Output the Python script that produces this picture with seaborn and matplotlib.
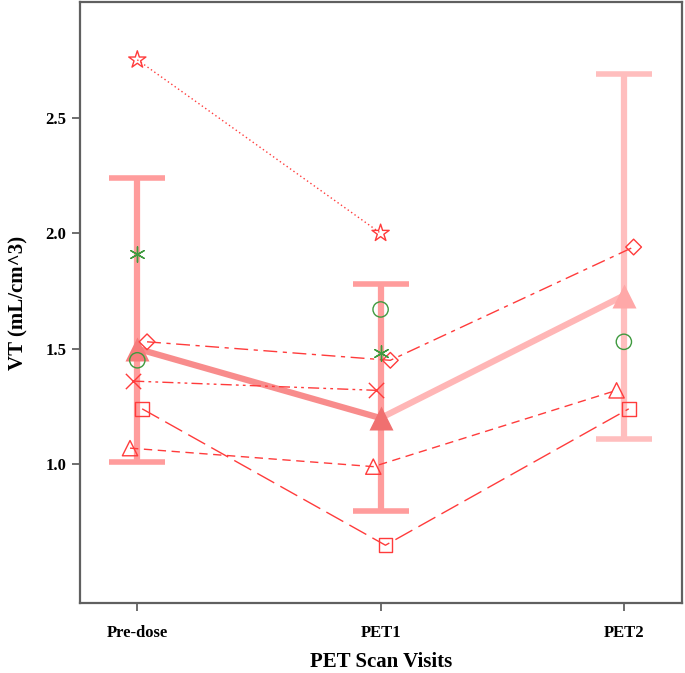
import matplotlib
matplotlib.use("Agg")
import matplotlib.pyplot as plt
import seaborn as sns
import pandas as pd

sns.set_style("white")
plt.rcParams["font.family"] = ["Liberation Serif", "DejaVu Serif"]
plt.rcParams["text.color"] = "black"
plt.rcParams["axes.labelcolor"] = "black"
plt.rcParams["xtick.color"] = "black"
plt.rcParams["ytick.color"] = "black"

# visits and per-subject VT values (None = no scan)
visits = ["Pre-dose", "PET1", "PET2"]
star_vt = [2.75, 2.00, None]
diamond_vt = [1.53, 1.45, 1.94]
cross_vt = [1.36, 1.32, None]
square_vt = [1.24, 0.65, 1.24]
triangle_vt = [1.07, 0.99, 1.32]
asterisk_vt = [1.91, 1.48, None]
circle_vt = [1.45, 1.67, 1.53]

# group mean and error bar limits
mean_vt = [1.50, 1.20, 1.73]
low_vt = [1.01, 0.80, 1.11]
high_vt = [2.24, 1.78, 2.69]

subjects = {
    "star": star_vt, "diamond": diamond_vt, "cross": cross_vt,
    "square": square_vt, "triangle": triangle_vt,
    "asterisk": asterisk_vt, "circle": circle_vt,
}

# style per subject: marker, colour, linestyle, small horizontal dodge
red = "#ff3b3b"
green = "#3f9a3f"
styles = {
    "star": dict(marker="*", color=red, ls=(0, (1, 2)), ms=13, dodge=0.0, filled=True),
    "diamond": dict(marker="D", color=red, ls=(0, (10, 4, 3, 4)), ms=8, dodge=0.04, filled=True),
    "cross": dict(marker="x", color=red, ls=(0, (8, 3, 2, 3, 2, 3)), ms=11, dodge=-0.017, filled=False),
    "square": dict(marker="s", color=red, ls=(0, (14, 5)), ms=10, dodge=0.02, filled=True),
    "triangle": dict(marker="^", color=red, ls=(0, (6, 4)), ms=11, dodge=-0.03, filled=True),
    "asterisk": dict(marker=(6, 2, 0), color=green, ls="none", ms=11, dodge=0.0, filled=False),
    "circle": dict(marker="o", color=green, ls="none", ms=11, dodge=0.0, filled=True),
}

rows = []
for name, vals in subjects.items():
    for i, v in enumerate(vals):
        if v is not None:
            rows.append({"subject": name, "visit": i, "VT": v})
df = pd.DataFrame(rows)

fig = plt.figure(figsize=(6.85, 6.73), dpi=100)
ax = fig.add_axes([0.117, 0.104, 0.879, 0.893])

# error bars (lighter at PET2)
bar_colors = ["#ff9c9c", "#ff9c9c", "#ffbebe"]
for i in range(len(visits)):
    ax.errorbar(i, mean_vt[i], yerr=[[mean_vt[i] - low_vt[i]], [high_vt[i] - mean_vt[i]]],
                fmt="none", ecolor=bar_colors[i], elinewidth=4.5, capsize=20,
                capthick=4, zorder=1)

# mean line, two segments
mean_df = pd.DataFrame({"visit": range(len(visits)), "VT": mean_vt})
seg_colors = ["#f88c8c", "#ffb6b6"]
for k in range(len(visits) - 1):
    sns.lineplot(data=mean_df.iloc[k:k + 2], x="visit", y="VT", color=seg_colors[k],
                 linewidth=4.5, ax=ax, zorder=2)
tri_colors = ["#f77c7c", "#f07070", "#ffa8a8"]
for i in range(len(visits)):
    ax.plot(i, mean_vt[i], marker="^", ms=17, color=tri_colors[i], mec="none", zorder=3)

# individual subjects
for name, st in styles.items():
    d = df[df["subject"] == name].copy()
    d["x"] = d["visit"] + st["dodge"]
    sns.lineplot(data=d, x="x", y="VT", color=st["color"], linestyle=st["ls"],
                 linewidth=1.0, ax=ax, zorder=4, sort=False)
    if st["filled"]:
        sns.scatterplot(data=d, x="x", y="VT", marker=st["marker"], s=st["ms"] ** 2,
                        facecolor="none", edgecolor=st["color"], linewidth=1.0,
                        ax=ax, zorder=5)
    else:
        sns.scatterplot(data=d, x="x", y="VT", marker=st["marker"], s=st["ms"] ** 2,
                        color=st["color"], linewidth=1.0, ax=ax, zorder=5)

ax.set_xlim(-0.235, 2.24)
ax.set_ylim(0.4, 3.0)
ax.set_xticks(range(len(visits)))
ax.set_xticklabels(visits, fontsize=12, fontweight="bold")
ax.set_yticks([1.0, 1.5, 2.0, 2.5])
ax.set_yticklabels(["1.0", "1.5", "2.0", "2.5"], fontsize=12, fontweight="bold")
ax.tick_params(axis="both", direction="out", length=6, width=1.2, color="#555555",
               bottom=True, left=True, pad=4)
ax.tick_params(axis="x", pad=10)
ax.set_xlabel("PET Scan Visits", fontsize=15, fontweight="bold", labelpad=8)
ax.set_ylabel("VT (mL/cm^3)", fontsize=15, fontweight="bold", labelpad=12)
for sp in ax.spines.values():
    sp.set_color("#606060")
    sp.set_linewidth(1.6)
ax.grid(False)

fig.savefig("out.png", dpi=100)
